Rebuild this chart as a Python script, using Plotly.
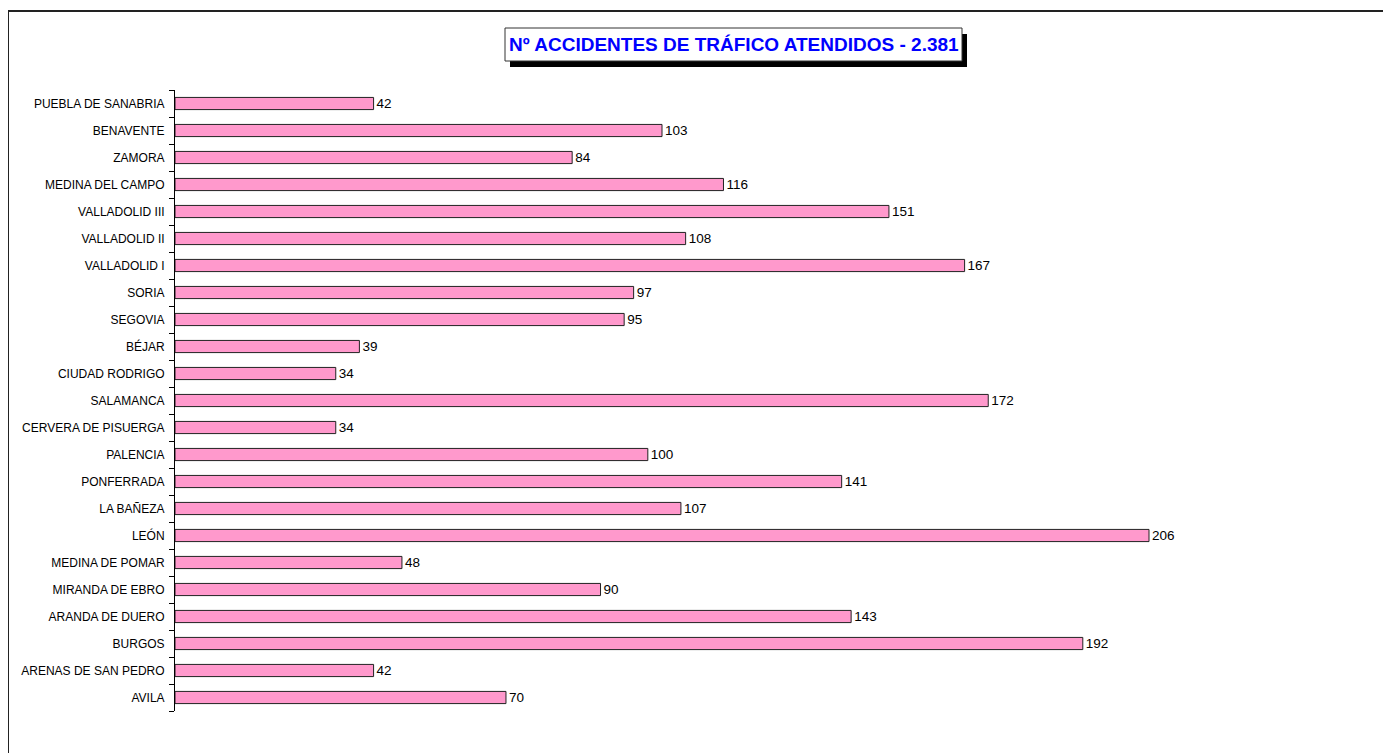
import plotly.graph_objects as go

categories = ["AVILA", "ARENAS DE SAN PEDRO", "BURGOS", "ARANDA DE DUERO", "MIRANDA DE EBRO",
              "MEDINA DE POMAR", "LEÓN", "LA BAÑEZA", "PONFERRADA", "PALENCIA",
              "CERVERA DE PISUERGA", "SALAMANCA", "CIUDAD RODRIGO", "BÉJAR", "SEGOVIA",
              "SORIA", "VALLADOLID I", "VALLADOLID II", "VALLADOLID III", "MEDINA DEL CAMPO",
              "ZAMORA", "BENAVENTE", "PUEBLA DE SANABRIA"]
values = [70, 42, 192, 143, 90, 48, 206, 107, 141, 100, 34, 172, 34, 39, 95, 97, 167,
          108, 151, 116, 84, 103, 42]
title_text = "Nº ACCIDENTES DE TRÁFICO ATENDIDOS - 2.381"

OFF = 8  # page body margin
W, H = 1391 - OFF, 753 - OFF
L, T = 175 - OFF, 90 - OFF
PLOT_R, PLOT_B = 1380 - OFF, 711 - OFF
R, B = W - PLOT_R, H - PLOT_B
PW, PH = PLOT_R - L, PLOT_B - T
FONT = "Liberation Sans, Arial, sans-serif"

def px(x):
    return (x - OFF - L) / PW

def py(y):
    return (PLOT_B - (y - OFF)) / PH

fig = go.Figure(go.Bar(
    x=values, y=categories, orientation="h", width=0.45,
    marker=dict(color="#FF99CC", line=dict(color="#222222", width=1)),
    text=[str(v) for v in values], textposition="outside",
    textfont=dict(family=FONT, size=13.5, color="black"),
    constraintext="none",
    cliponaxis=False,
))

shapes = [
    dict(type="line", xref="paper", yref="paper", x0=px(8), x1=px(8), y0=py(11), y1=py(760),
         line=dict(color="#222222", width=2)),
    dict(type="line", xref="paper", yref="paper", x0=px(8), x1=px(1400), y0=py(11), y1=py(11),
         line=dict(color="#222222", width=2)),
    dict(type="rect", xref="paper", yref="paper", x0=px(510), x1=px(967), y0=py(67), y1=py(34),
         fillcolor="black", line=dict(width=0)),
    dict(type="rect", xref="paper", yref="paper", x0=px(505), x1=px(962), y0=py(61), y1=py(28),
         fillcolor="white", line=dict(color="#333333", width=1)),
]

fig.update_layout(
    width=W, height=H, autosize=False,
    margin=dict(l=L, r=R, t=T, b=B, pad=0),
    paper_bgcolor="white", plot_bgcolor="white",
    showlegend=False,
    shapes=shapes,
    annotations=[dict(text="<b>" + title_text + "</b>", xref="paper", yref="paper",
                      x=px(733.5), y=py(45), xanchor="center", yanchor="middle",
                      showarrow=False, font=dict(family=FONT, size=19, color="#0000FF"))],
    xaxis=dict(range=[0, PW / ((1149 - 175) / 206)], visible=False, showgrid=False, zeroline=False),
    yaxis=dict(type="category", categoryorder="array", categoryarray=categories,
               showline=True, linecolor="black", linewidth=1,
               ticks="outside", tickson="boundaries", ticklen=5, tickcolor="black",
               ticklabelstandoff=7,
               showgrid=False, tickfont=dict(family=FONT, size=12, color="black")),
    font=dict(family=FONT),
)

fig.write_html("out.html")
